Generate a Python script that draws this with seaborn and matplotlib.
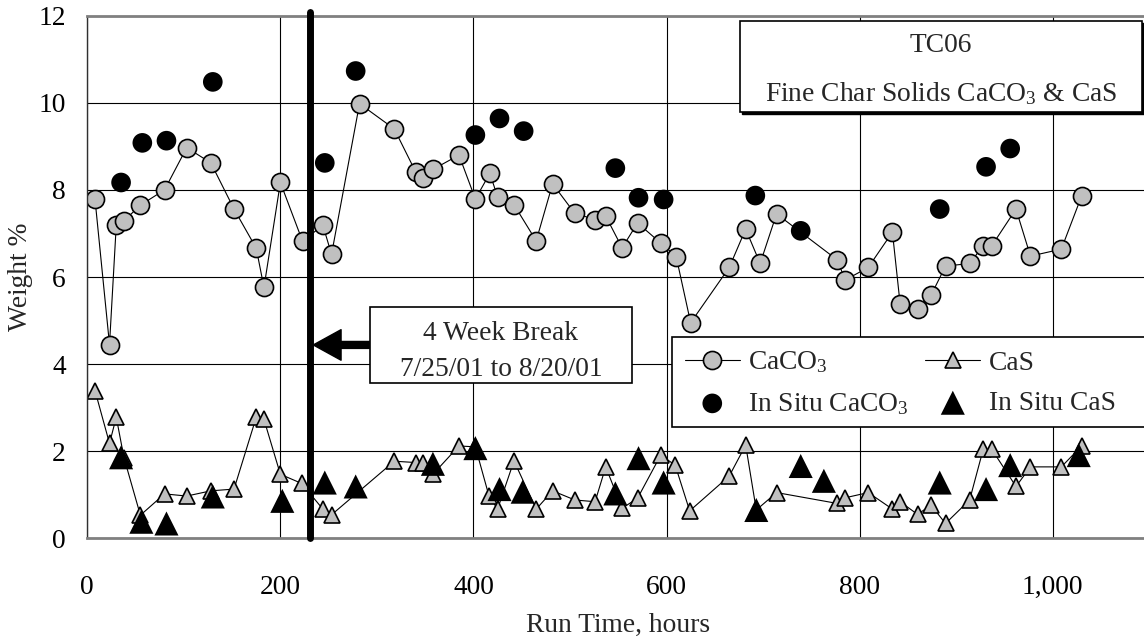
import matplotlib
matplotlib.use("Agg")
import matplotlib.pyplot as plt
from matplotlib.patches import Rectangle
import seaborn as sns

# Run time (hours) and weight % for each sample set
caco3_hours = [8, 23, 30, 38, 55, 80, 103, 128, 152, 175, 183, 200, 223, 244, 253,
               282, 318, 340, 348, 358, 385, 402, 417, 425, 442, 465, 482, 505, 526,
               537, 554, 570, 594, 610, 625, 665, 682, 697, 714, 777, 785, 809, 834,
               842, 860, 874, 889, 914, 928, 937, 962, 977, 1009, 1030]
caco3_wt = [7.78, 4.45, 7.19, 7.29, 7.65, 8.00, 8.97, 8.62, 7.56, 6.66, 5.76, 8.17,
            6.82, 7.19, 6.52, 9.98, 9.40, 8.42, 8.28, 8.47, 8.80, 7.79, 8.38, 7.84,
            7.66, 6.83, 8.14, 7.46, 7.32, 7.40, 6.67, 7.24, 6.78, 6.47, 4.95, 6.22,
            7.10, 6.31, 7.45, 6.39, 5.93, 6.22, 7.03, 5.38, 5.26, 5.58, 6.25, 6.31,
            6.72, 6.72, 7.56, 6.48, 6.64, 7.86]

cas_hours = [8, 23, 30, 38, 55, 80, 103, 128, 152, 175, 183, 200, 222, 244, 253,
             318, 340, 348, 358, 385, 402, 416, 425, 442, 465, 482, 505, 526, 537,
             554, 570, 594, 609, 624, 665, 682, 693, 714, 777, 785, 809, 834, 842,
             860, 874, 889, 914, 928, 937, 962, 977, 1009, 1030]
cas_wt = [3.39, 2.18, 2.78, 1.85, 0.53, 1.02, 0.97, 1.09, 1.13, 2.78, 2.73, 1.47,
          1.26, 0.67, 0.54, 1.77, 1.74, 1.74, 1.47, 2.12, 2.10, 0.98, 0.67, 1.78,
          0.67, 1.09, 0.88, 0.84, 1.64, 0.69, 0.92, 1.91, 1.68, 0.63, 1.43, 2.14,
          0.65, 1.05, 0.80, 0.93, 1.05, 0.67, 0.84, 0.55, 0.76, 0.34, 0.88, 2.04,
          2.04, 1.19, 1.64, 1.64, 2.12]

insitu_caco3_hours = [35, 57, 82, 130, 246, 278, 402, 427, 452, 547, 571, 597, 692,
                      739, 883, 931, 956]
insitu_caco3_wt = [8.17, 9.08, 9.13, 10.48, 8.62, 10.73, 9.26, 9.64, 9.35, 8.50,
                   7.82, 7.78, 7.87, 7.06, 7.56, 8.53, 8.95]

insitu_cas_hours = [35, 56, 82, 130, 202, 246, 278, 358, 402, 427, 451, 547, 571,
                    597, 693, 739, 763, 883, 931, 956, 1027]
insitu_cas_wt = [1.86, 0.38, 0.34, 0.96, 0.86, 1.28, 1.19, 1.71, 2.07, 1.13, 1.07,
                 1.03, 1.84, 1.28, 0.65, 1.66, 1.32, 1.28, 1.13, 1.68, 1.91]

x_ticks = [0, 200, 400, 600, 800, 1000]
x_tick_labels = ["0", "200", "400", "600", "800", "1,000"]
y_ticks = [0, 2, 4, 6, 8, 10, 12]

break_hour = 230.7
break_lines = ["4 Week Break", "7/25/01 to 8/20/01"]
title_lines = ["TC06", "Fine Char Solids CaCO$_3$ & CaS"]

sns.set_style("white")
plt.rcParams["font.family"] = ["Liberation Serif", "DejaVu Serif"]
plt.rcParams["mathtext.default"] = "regular"
FS = 19.8

fig = plt.figure(figsize=(11.44, 6.37), dpi=100)
ax = fig.add_axes([87.3 / 1144, 98.7 / 637, 1061.9 / 1144, 522.6 / 637])
ax.set_axisbelow(True)

sns.lineplot(x=caco3_hours, y=caco3_wt, ax=ax, estimator=None, sort=False,
             color="black", linewidth=0.8, marker="o", markersize=13,
             markerfacecolor="#C0C0C0", markeredgecolor="black",
             markeredgewidth=1.2, label="CaCO$_3$", zorder=2)
sns.lineplot(x=cas_hours, y=cas_wt, ax=ax, estimator=None, sort=False,
             color="black", linewidth=0.8, marker="^", markersize=11,
             markerfacecolor="#C0C0C0", markeredgecolor="black",
             markeredgewidth=1.2, label="CaS", zorder=2)
sns.scatterplot(x=insitu_caco3_hours, y=insitu_caco3_wt, ax=ax, marker="o",
                s=200, color="black", edgecolor="none",
                label="In Situ CaCO$_3$", zorder=3)
sns.scatterplot(x=insitu_cas_hours, y=insitu_cas_wt, ax=ax, marker="^",
                s=300, color="black", edgecolor="none",
                label="In Situ CaS", zorder=3)

ax.set_xlim(0, 1100)
ax.set_ylim(0, 12)
ax.set_xticks(x_ticks)
ax.set_xticklabels(x_tick_labels)
ax.set_yticks(y_ticks)
ax.grid(True, color="black", linewidth=0.8)
ax.tick_params(axis="both", direction="out", length=6.5, width=0.8,
               colors="black", labelsize=FS)
ax.tick_params(axis="x", pad=20)
ax.tick_params(axis="y", pad=9)
ax.set_xlabel("Run Time, hours", fontsize=FS, labelpad=9)
ax.set_ylabel("Weight %", fontsize=FS, labelpad=4)

for side in ("top", "bottom"):
    ax.spines[side].set_color("#808080")
    ax.spines[side].set_linewidth(2)
ax.spines["left"].set_color("#303030")
ax.spines["left"].set_linewidth(1)
ax.spines["right"].set_visible(False)

# Plant outage marker
ax.axvline(break_hour, ymin=0, ymax=1.008, color="black", linewidth=5,
           clip_on=False, zorder=4)
ax.annotate("", xy=(234.1, 4.44), xytext=(292.8, 4.44),
            arrowprops=dict(facecolor="black", edgecolor="black", width=5,
                            headwidth=22, headlength=20, shrink=0),
            zorder=5)
ax.add_patch(Rectangle((292.8, 3.56), 271.1, 1.74, facecolor="white",
                       edgecolor="black", linewidth=1.2, zorder=5))
ax.text(428.4, 4.55, break_lines[0], ha="center", va="baseline", fontsize=FS,
        zorder=6)
ax.text(428.4, 3.73, break_lines[1], ha="center", va="baseline", fontsize=FS,
        zorder=6)

# Title box with a small drop shadow
ax.add_patch(Rectangle((678.0, 9.75), 416.2, 2.08, facecolor="black",
                       edgecolor="black", linewidth=1.0, zorder=5))
ax.add_patch(Rectangle((676.1, 9.80), 416.2, 2.08, facecolor="white",
                       edgecolor="black", linewidth=1.2, zorder=5))
ax.text(884.1, 11.16, title_lines[0], ha="center", va="baseline", fontsize=FS,
        zorder=6)
ax.text(884.1, 10.04, title_lines[1], ha="center", va="baseline", fontsize=FS,
        zorder=6)

# Legend panel runs on to the right edge of the plot area
ax.add_patch(Rectangle((0.551, 0.2135), 0.46, 0.1711, transform=ax.transAxes,
                       facecolor="white", edgecolor="black", linewidth=1.2,
                       clip_on=False, zorder=5))
handles, labels = ax.get_legend_handles_labels()
order = [0, 2, 1, 3]
leg = ax.legend([handles[i] for i in order], [labels[i] for i in order],
                loc="upper left", bbox_to_anchor=(0.551, 0.3846), ncol=2,
                fontsize=FS, frameon=False, borderaxespad=0, handlelength=2.0,
                handletextpad=0.3, columnspacing=0.6, labelspacing=0.55,
                borderpad=0.45)
leg.set_zorder(6)

fig.savefig("out.png", dpi=100)
